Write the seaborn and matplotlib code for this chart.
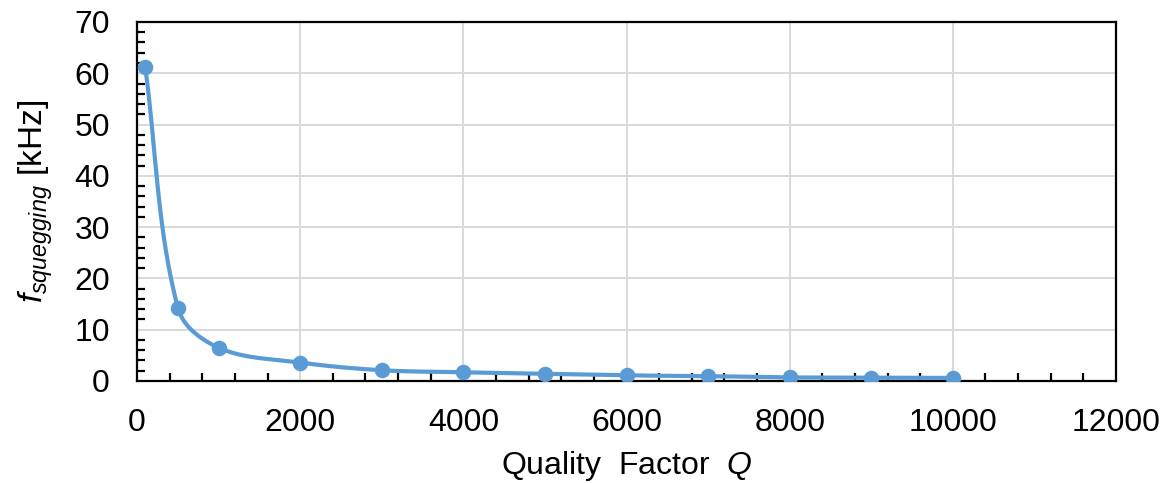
import numpy as np
import pandas as pd
import matplotlib
matplotlib.use("Agg")
import matplotlib.pyplot as plt
from matplotlib.ticker import MultipleLocator
import seaborn as sns

# Squegging frequency versus quality factor
quality_factor = [100, 500, 1000, 2000, 3000, 4000, 5000, 6000, 7000, 8000, 9000, 10000]
f_squegging_khz = [61.3, 14.3, 6.5, 3.6, 2.1, 1.7, 1.4, 1.1, 0.95, 0.7, 0.65, 0.6]

x_ticks = [0, 2000, 4000, 6000, 8000, 10000, 12000]
y_ticks = [0, 10, 20, 30, 40, 50, 60, 70]

LINE_BLUE = "#5B9BD5"

sns.set_theme(style="white")
plt.rcParams["font.family"] = ["Liberation Sans", "DejaVu Sans"]
plt.rcParams["mathtext.fontset"] = "custom"
plt.rcParams["mathtext.rm"] = "Liberation Sans"
plt.rcParams["mathtext.it"] = "Liberation Sans:italic"


def smooth_curve(xs, ys, sx, sy, n=80, tension=0.34):
    """Cubic Bezier smoothing through every point. Tangent directions follow
    the neighbouring points; handle lengths follow each segment's length so
    the curve does not overshoot. Done in screen-proportional units."""
    p = np.column_stack([np.asarray(xs, float) * sx, np.asarray(ys, float) * sy])
    m = len(p)
    tang = np.zeros_like(p)
    for i in range(m):
        a = p[max(i - 1, 0)]
        b = p[min(i + 1, m - 1)]
        d = b - a
        tang[i] = d / np.linalg.norm(d)
    out = []
    for i in range(m - 1):
        p1, p2 = p[i], p[i + 1]
        L = np.linalg.norm(p2 - p1)
        c1 = p1 + tang[i] * L * tension
        c2 = p2 - tang[i + 1] * L * tension
        t = np.linspace(0, 1, n)[:, None]
        seg = ((1 - t) ** 3) * p1 + 3 * ((1 - t) ** 2) * t * c1 + 3 * (1 - t) * t ** 2 * c2 + t ** 3 * p2
        out.append(seg if i == 0 else seg[1:])
    pts = np.vstack(out)
    return pts[:, 0] / sx, pts[:, 1] / sy


fig = plt.figure(figsize=(11.68, 4.83), dpi=100)
ax = fig.add_axes([0.1173, 0.2112, 0.9555 - 0.1173, 0.9545 - 0.2112])

# axis spans 978 px for 12000 and 359 px for 70
cx, cy = smooth_curve(quality_factor, f_squegging_khz, 978 / 12000, 359 / 70)
curve = pd.DataFrame({"Q": cx, "f": cy})
points = pd.DataFrame({"Q": quality_factor, "f": f_squegging_khz})

sns.lineplot(data=curve, x="Q", y="f", sort=False, color=LINE_BLUE,
             linewidth=3.0, ax=ax, zorder=3)
sns.scatterplot(data=points, x="Q", y="f", color=LINE_BLUE, s=125,
                edgecolor=LINE_BLUE, linewidth=0, ax=ax, zorder=4)

ax.set_xlim(0, 12000)
ax.set_ylim(0, 70)
ax.set_xticks(x_ticks)
ax.set_yticks(y_ticks)
ax.xaxis.set_minor_locator(MultipleLocator(400))
ax.yaxis.set_minor_locator(MultipleLocator(2))

ax.grid(True, which="major", color="#D9D9D9", linewidth=1.4, zorder=0)
ax.set_axisbelow(True)

for side in ["left", "bottom", "top", "right"]:
    ax.spines[side].set_visible(True)
    ax.spines[side].set_color("black")
    ax.spines[side].set_linewidth(1.6)

ax.tick_params(axis="both", which="major", direction="inout", length=13,
               width=1.6, color="black", labelsize=23, labelcolor="black")
ax.tick_params(axis="x", which="major", pad=13)
ax.tick_params(axis="y", which="major", pad=13)
ax.tick_params(axis="both", which="minor", direction="in", length=6,
               width=1.6, color="black")
ax.tick_params(which="both", top=False, right=False)
ax.tick_params(axis="x", which="minor", bottom=True)
ax.tick_params(axis="y", which="minor", left=True)

ax.set_xlabel(r"Quality  Factor  $Q$", fontsize=23, color="black", labelpad=8)
ax.set_ylabel(r"$f_{squegging}$ [kHz]", fontsize=24, color="black", labelpad=14)

fig.savefig("out.png", dpi=100, facecolor="white")
